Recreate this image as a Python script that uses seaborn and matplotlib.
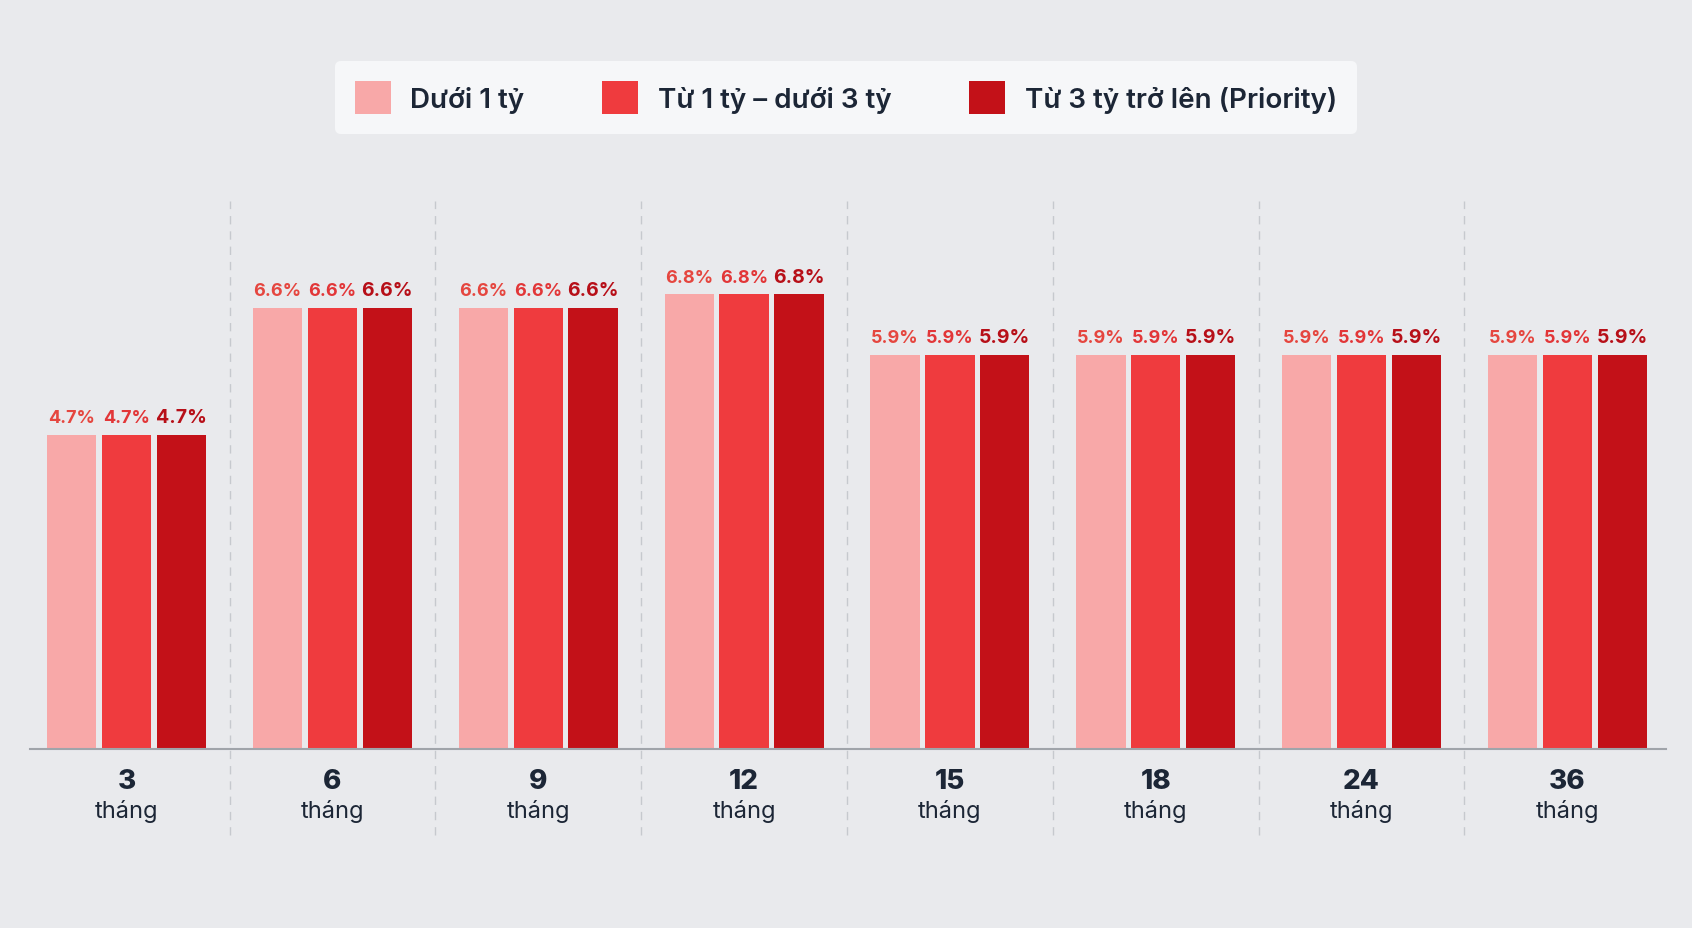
import pandas as pd
import matplotlib.pyplot as plt
import matplotlib.transforms as mtransforms
import seaborn as sns

# ---- Data ----
terms = ['3', '6', '9', '12', '15', '18', '24', '36']
tiers = ['Dưới 1 tỷ', 'Từ 1 tỷ – dưới 3 tỷ', 'Từ 3 tỷ trở lên (Priority)']
rate_under_1 = [4.7, 6.6, 6.6, 6.8, 5.9, 5.9, 5.9, 5.9]
rate_1_to_3 = [4.7, 6.6, 6.6, 6.8, 5.9, 5.9, 5.9, 5.9]
rate_priority = [4.7, 6.6, 6.6, 6.8, 5.9, 5.9, 5.9, 5.9]

bar_colors = ['#f8a8a8', '#ef3b3e', '#c31118']
label_colors = ['#e5463f', '#e23638', '#b70f18']
bg = '#e9eaed'
ink = '#1c2636'

df = pd.DataFrame({
    'term': terms * 3,
    'tier': [tiers[0]] * 8 + [tiers[1]] * 8 + [tiers[2]] * 8,
    'rate': rate_under_1 + rate_1_to_3 + rate_priority,
})

sns.set_style('white')
plt.rcParams['font.family'] = ['Inter', 'DejaVu Sans']

fig = plt.figure(figsize=(16.92, 9.29), dpi=100, facecolor=bg)
ax = fig.add_axes([0.0177, 0.1927, 0.967, 0.59])
ax.set_facecolor(bg)

sns.barplot(data=df, x='term', y='rate', hue='tier', order=terms,
            hue_order=tiers, palette=bar_colors, width=0.8, gap=0.1,
            saturation=1, linewidth=0, ax=ax)

# value labels above bars
for cont, col, fs in zip(ax.containers, label_colors, [13, 13, 14]):
    ax.bar_label(cont, labels=[f'{b.get_height():.1f}%' for b in cont],
                 padding=6, color=col, fontsize=fs, fontweight='bold')

ax.set_xlim(-0.47, 7.48)
ax.set_ylim(0, 8.2)
ax.set_yticks([])
ax.set_xlabel('')
ax.set_ylabel('')
for s in ['top', 'left', 'right']:
    ax.spines[s].set_visible(False)
ax.spines['bottom'].set_color('#a0a4aa')
ax.spines['bottom'].set_linewidth(1.5)

# x tick labels: bold number + "tháng"
ax.set_xticks(range(len(terms)))
ax.set_xticklabels(terms, fontsize=20, fontweight='heavy', color=ink)
ax.tick_params(axis='x', length=0, pad=14)
trans = mtransforms.blended_transform_factory(ax.transData, ax.transAxes)
for i in range(len(terms)):
    ax.text(i, -0.113, 'tháng', transform=trans, ha='center', va='center',
            fontsize=17, color=ink)

# dashed dividers between groups
for i in range(len(terms) - 1):
    ax.axvline(i + 0.5, ymin=-0.157, ymax=1, color='#c6c9ce', lw=1,
               ls=(0, (6, 5)), clip_on=False, zorder=0)

# legend on top
handles, labels = ax.get_legend_handles_labels()
ax.legend_.remove()
fig.legend(handles, labels, loc='center', bbox_to_anchor=(0.5, 0.894), ncol=3,
           frameon=True, fancybox=True, facecolor='#f6f7f9', edgecolor='none',
           framealpha=1, prop={'size': 20, 'weight': 'semibold'},
           handlelength=1.3, handleheight=1.5, handletextpad=0.7,
           columnspacing=2.8, borderpad=0.7, labelcolor=ink)

fig.savefig('out.png', dpi=100, facecolor=bg)
